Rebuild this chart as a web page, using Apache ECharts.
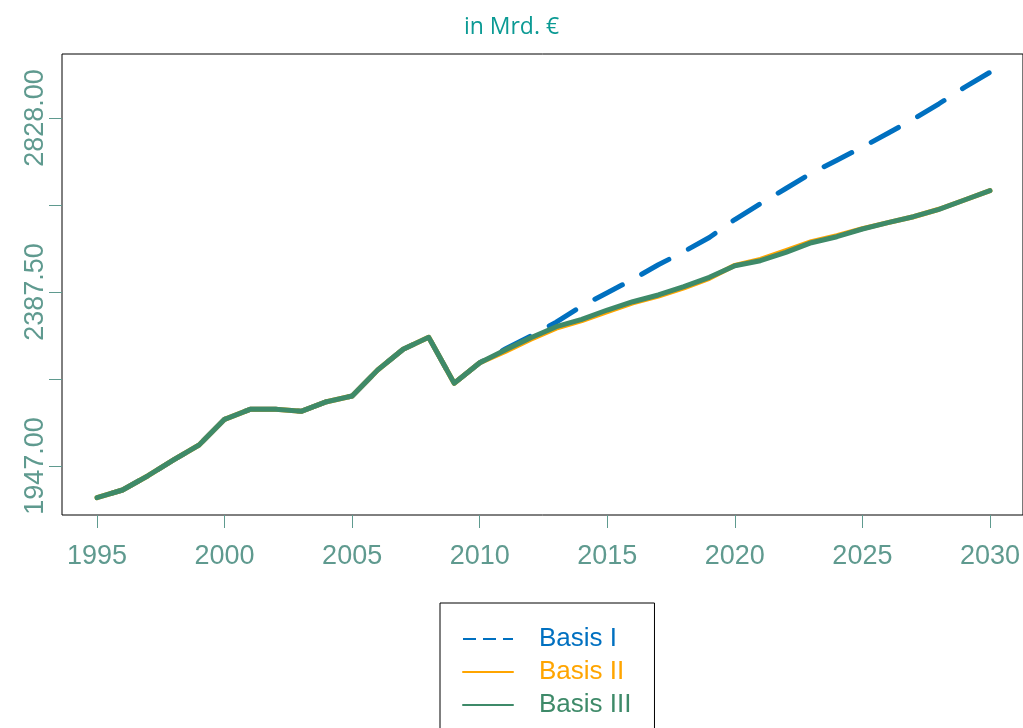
<!DOCTYPE html>
<html>
<head>
<meta charset="utf-8">
<script src="https://cdn.jsdelivr.net/npm/echarts@6/dist/echarts.min.js"></script>
<style>
  html, body { margin: 0; padding: 0; background: #fff; }
  #chart { width: 1023px; height: 728px; }
</style>
</head>
<body>
<div id="chart"></div>
<script>
// Jahre
var years = [1995, 1996, 1997, 1998, 1999, 2000, 2001, 2002, 2003, 2004, 2005, 2006,
  2007, 2008, 2009, 2010, 2011, 2012, 2013, 2014, 2015, 2016, 2017, 2018, 2019, 2020,
  2021, 2022, 2023, 2024, 2025, 2026, 2027, 2028, 2029, 2030];

// gemeinsame Historie 1995-2010
var historic = [1866.7, 1886.2, 1922.4, 1962.2, 2000.2, 2065.2, 2090.5, 2090.5, 2085.5,
  2109.8, 2124.2, 2190.0, 2242.4, 2272.8, 2156.4, 2208.5];

// Projektionen 2011-2030
var basis1 = [2243, 2276, 2311, 2352, 2385.7, 2419.6, 2456.4, 2489.5, 2525.5, 2571,
  2611, 2649.5, 2688.3, 2721.2, 2754.3, 2789.3, 2825, 2864, 2905.7, 2943.7];
var basis2 = [2237, 2268, 2296, 2315, 2338, 2360, 2377, 2398, 2422, 2455,
  2470, 2492, 2515, 2530, 2548, 2563, 2578, 2597, 2620.4, 2644];
var basis3 = [2240.7, 2271.8, 2299.7, 2318.4, 2341.9, 2362.9, 2379.9, 2400.9, 2424.7, 2454.1,
  2466.7, 2488, 2512.3, 2527.5, 2547, 2563, 2578.1, 2596.9, 2620.4, 2644];

var xTicks = [1995, 2000, 2005, 2010, 2015, 2020, 2025, 2030];
var yTicks = [1947.00, 2167.25, 2387.50, 2607.75, 2828.00];
var yLabels = [1947.00, 2387.50, 2828.00];

var seriesNames = ["Basis I", "Basis II", "Basis III"];
var colors = ["#0070c0", "#ffa500", "#3e8a69"];
var axisTextColor = "#5f9a8f";
var fontFamily = "'Liberation Sans', Arial, sans-serif";

function pairs(proj) {
  var vals = historic.concat(proj);
  return years.map(function (y, i) { return [y, vals[i]]; });
}

var myChart = echarts.init(document.getElementById("chart"));

var option = {
  backgroundColor: "#fff",
  animation: false,
  title: {
    text: "in Mrd. €",
    left: "center",
    top: 11,
    textStyle: { color: "#0b9a94", fontFamily: "'Open Sans', sans-serif", fontSize: 23, fontWeight: "normal" }
  },
  grid: {
    left: 62, top: 54, right: -2, height: 461,
    show: true, borderColor: "#000", borderWidth: 1, backgroundColor: "transparent"
  },
  xAxis: {
    type: "value",
    min: 1993.627, max: 2031.294,
    axisLine: { show: false },
    splitLine: { show: false },
    axisTick: { show: true, length: 13, customValues: xTicks, lineStyle: { color: axisTextColor } },
    axisLabel: {
      customValues: xTicks, margin: 28,
      color: axisTextColor, fontSize: 27, fontFamily: fontFamily,
      formatter: function (v) { return String(v); }
    }
  },
  yAxis: {
    type: "value",
    min: 1822.95, max: 2990.0,
    axisLine: { show: false },
    splitLine: { show: false },
    axisTick: { show: true, length: 13, customValues: yTicks, lineStyle: { color: axisTextColor } },
    axisLabel: {
      customValues: yLabels, rotate: 90, margin: 13,
      color: axisTextColor, fontSize: 27, fontFamily: fontFamily,
      formatter: function (v) { return v.toFixed(2); }
    }
  },
  legend: {
    orient: "vertical",
    left: 440, top: 603, height: 110, width: 180,
    padding: [23, 23, 40, 22],
    borderColor: "#000", borderWidth: 1,
    itemWidth: 50, itemHeight: 14, itemGap: 7,
    itemStyle: { opacity: 0 },
    textStyle: { fontSize: 26, fontFamily: fontFamily, lineHeight: 26, padding: [0, 0, 0, 21] },
    lineStyle: { width: 2 },
    data: [
      { name: seriesNames[0], textStyle: { color: colors[0] }, lineStyle: { type: [13, 7], dashOffset: 0, width: 2, cap: "butt" } },
      { name: seriesNames[1], textStyle: { color: colors[1] } },
      { name: seriesNames[2], textStyle: { color: colors[2] } }
    ]
  },
  series: [
    {
      name: seriesNames[0], type: "line", showSymbol: false, symbol: "none",
      data: pairs(basis1),
      lineStyle: { color: colors[0], width: 5, type: [31, 22], dashOffset: 38, cap: "round", join: "round" },
      itemStyle: { color: colors[0] }
    },
    {
      name: seriesNames[1], type: "line", showSymbol: false, symbol: "none",
      data: pairs(basis2),
      lineStyle: { color: colors[1], width: 5, cap: "round", join: "round" },
      itemStyle: { color: colors[1] }
    },
    {
      name: seriesNames[2], type: "line", showSymbol: false, symbol: "none",
      data: pairs(basis3),
      lineStyle: { color: colors[2], width: 5, cap: "round", join: "round" },
      itemStyle: { color: colors[2] }
    }
  ]
};

myChart.setOption(option);
</script>
</body>
</html>
